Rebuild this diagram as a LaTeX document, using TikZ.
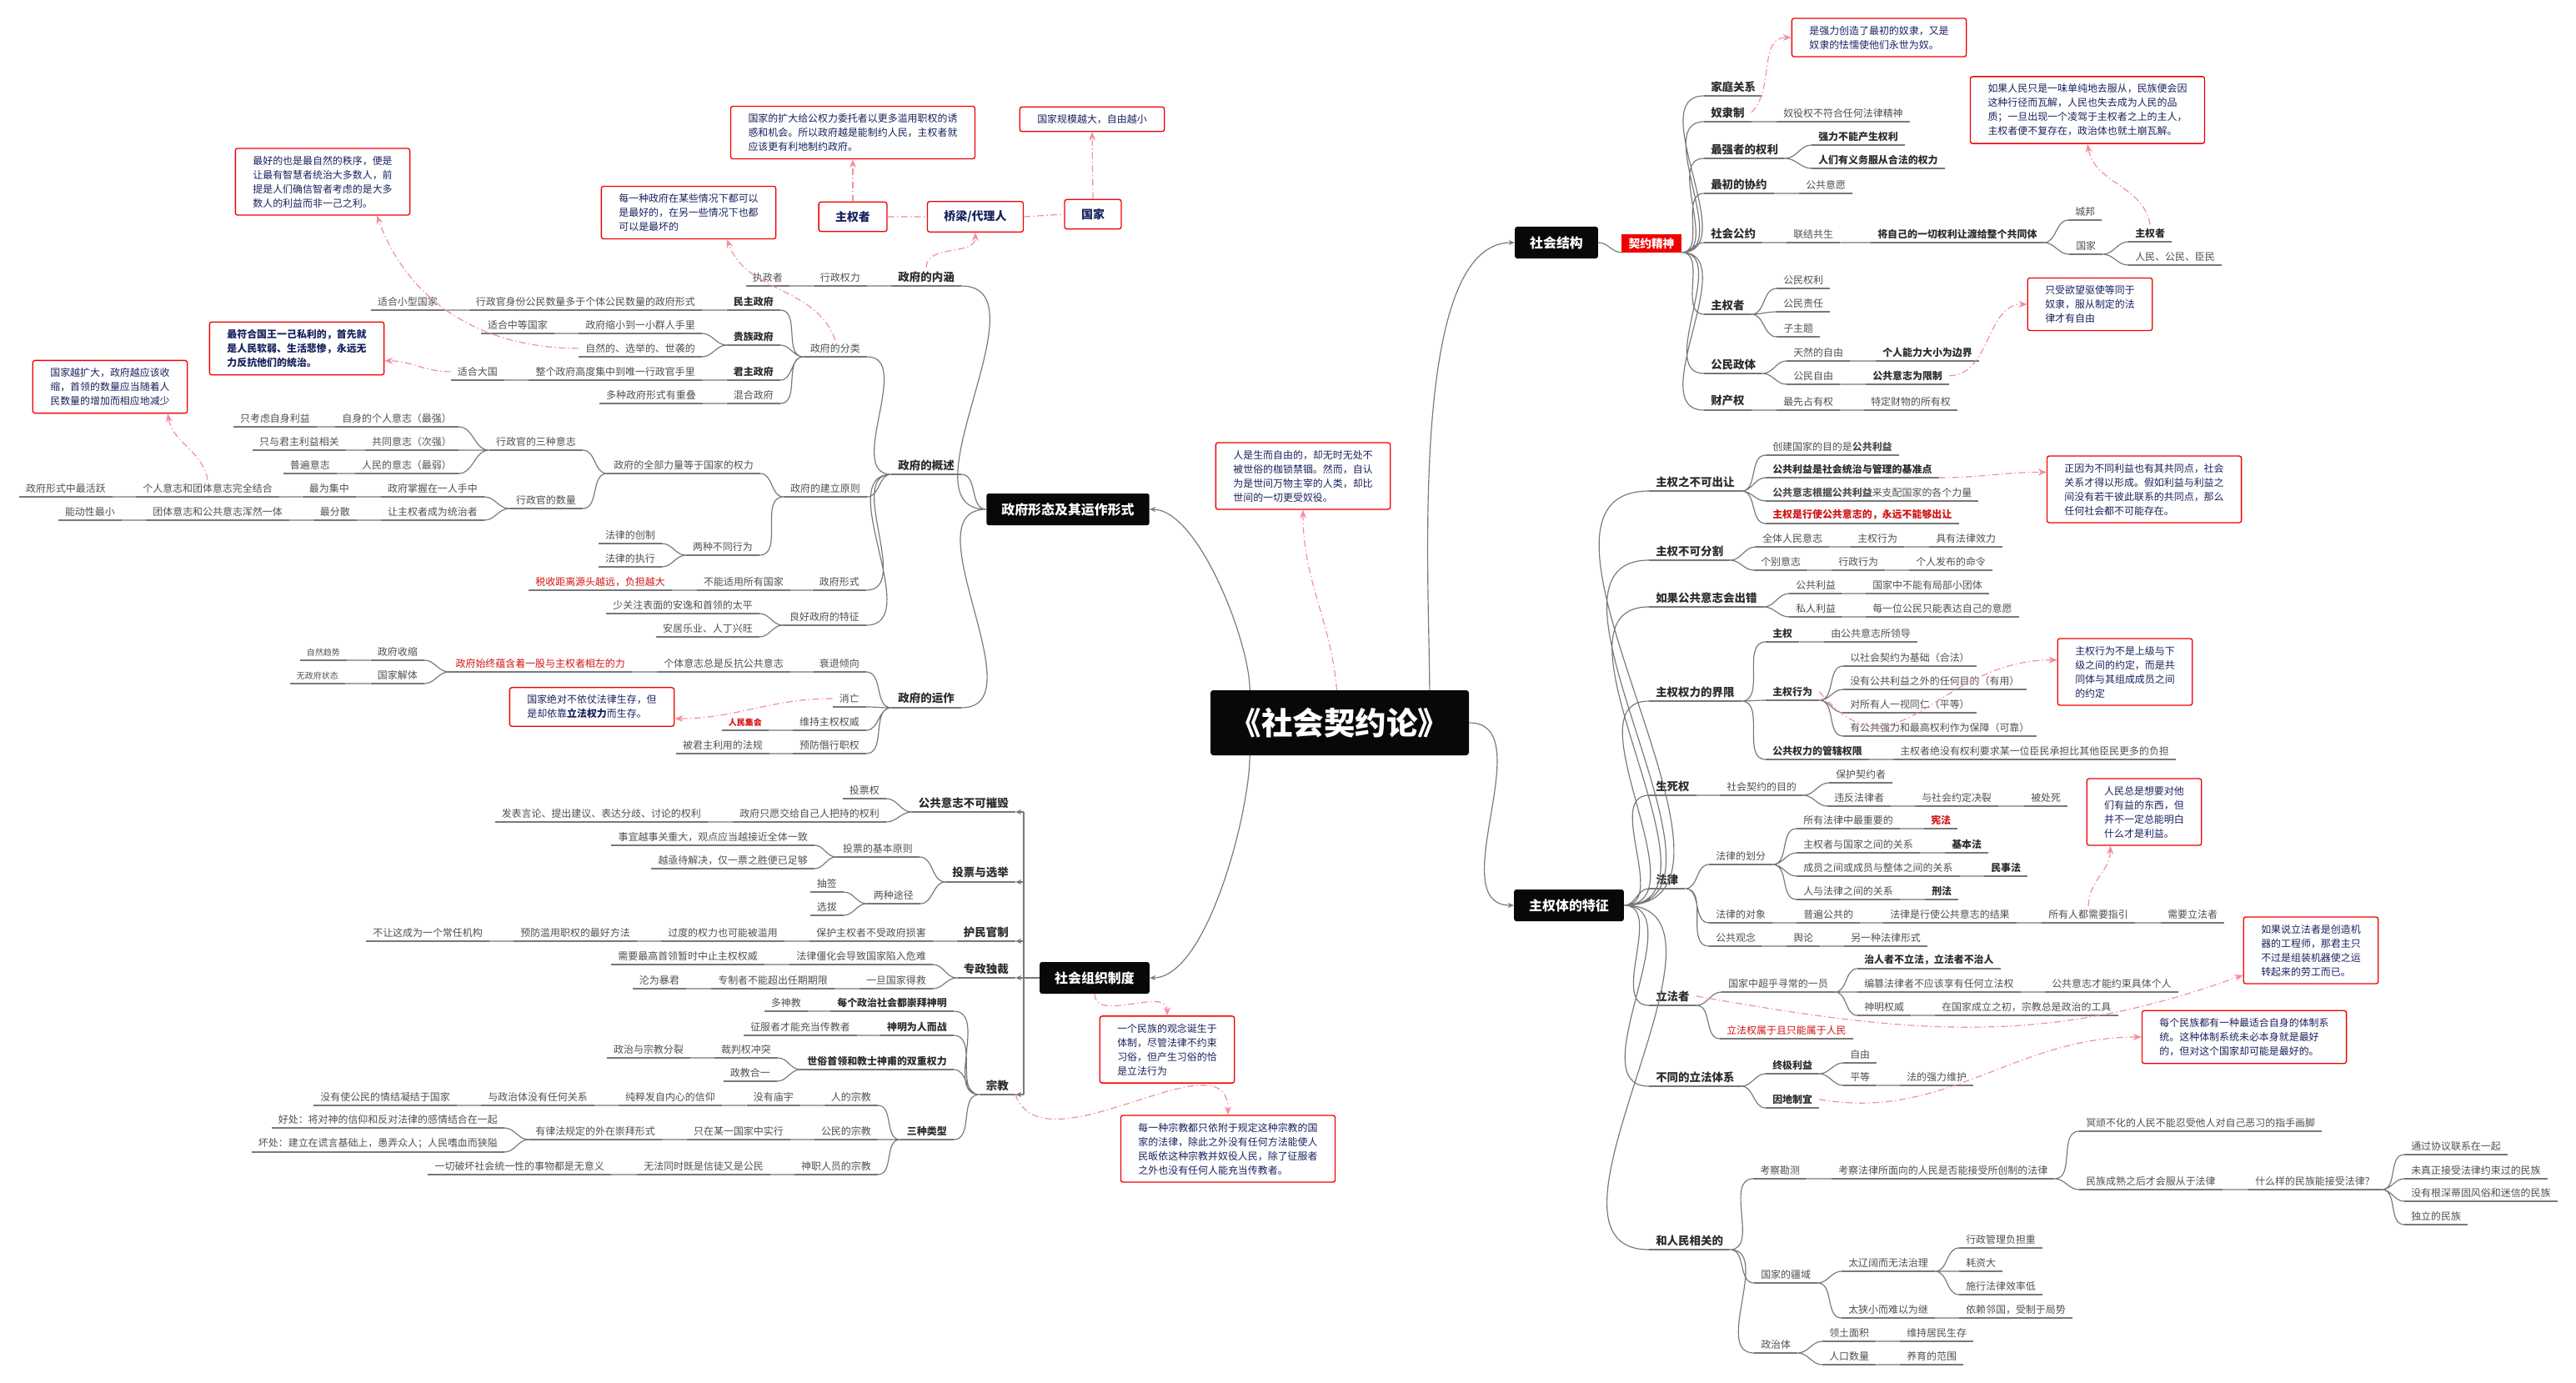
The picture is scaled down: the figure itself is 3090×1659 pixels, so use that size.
\documentclass[tikz,border=0pt]{standalone}
\usepackage{fontspec}
\setmainfont{Noto Sans CJK SC}
\usetikzlibrary{arrows.meta}
\definecolor{txtc}{RGB}{80,80,80}
\definecolor{hdc}{RGB}{45,45,45}
\definecolor{lnc}{RGB}{120,120,120}
\definecolor{redc}{RGB}{210,20,20}
\definecolor{ntc}{RGB}{240,0,0}
\definecolor{navc}{RGB}{25,35,95}
\definecolor{pkc}{RGB}{245,140,155}
\definecolor{bkc}{RGB}{8,8,8}
\tikzset{
  >={Stealth[length=2.2mm,width=1.8mm]},
  ul/.style={draw=lnc, line width=0.35mm},
  lf/.style={font=\fontsize{10.2}{12}\selectfont, text=txtc, inner xsep=2.4mm, inner ysep=1.3mm,
    append after command={(\tikzlastnode.south west) edge[ul] (\tikzlastnode.south east)}},
  rn/.style={lf, anchor=south west},
  ln/.style={lf, anchor=south east},
  hb/.style={font=\fontsize{11.5}{13}\selectfont\bfseries, text=hdc},
  sb/.style={font=\fontsize{10.2}{12}\selectfont\bfseries, text=hdc},
  rd/.style={text=redc},
  sm/.style={font=\fontsize{8.5}{10}\selectfont},
  cn/.style={draw=lnc, line width=0.35mm},
  cr/.style={cn, out=0, in=180},
  cl/.style={cn, out=180, in=0},
  ml/.style={cn, ->},
  nt/.style={draw=ntc, line width=0.4mm, rounded corners=0.8mm, fill=white, text=navc,
    font=\fontsize{10.2}{14.5}\selectfont, align=left, inner xsep=6.3mm, inner ysep=2.7mm},
  ntb/.style={nt, font=\fontsize{10.2}{14.5}\selectfont\bfseries},
  nb/.style={nt, font=\fontsize{11.9}{14}\selectfont\bfseries, inner xsep=6mm, inner ysep=3.3mm},
  dl/.style={draw=pkc, line width=0.35mm, dash pattern=on 2.4mm off 1mm on 0.4mm off 1mm,
    ->, >={Stealth[length=3mm,width=2.4mm]}},
  mb/.style={fill=bkc, text=white, font=\fontsize{13.6}{16}\selectfont\bfseries,
    rounded corners=0.8mm, inner xsep=5.4mm, minimum height=11.4mm},
  qb/.style={fill=ntc, text=white, font=\fontsize{11.7}{13}\selectfont\bfseries,
    inner xsep=2.5mm, inner ysep=1.2mm},
  rt/.style={fill=bkc, text=white, font=\fontsize{32}{36}\selectfont\bfseries,
    rounded corners=1mm, minimum width=93mm, minimum height=23.4mm},
}
\begin{document}
\begin{tikzpicture}[x=0.3mm,y=0.3mm]
\fill[white] (0,0) rectangle (3090,-1659);
\useasboundingbox (0,0) rectangle (3090,-1659);

% centre and main branches
\node[rt] (root) at (1607,-867) {《社会契约论》};
\node[mb] (shj) at (1867,-291) {社会结构};
\node[qb] (qy) at (1981,-292) {契约精神};
\node[mb] (ztz) at (1882,-1086) {主权体的特征};
\node[mb] (zfxs) at (1281,-611) {政府形态及其运作形式};
\node[mb] (szz) at (1313,-1173) {社会组织制度};

\draw[ml] (root.20) to[out=90,in=180,looseness=0.6] (shj.west);
\draw[ml] (root.east) to[out=0,in=180] (ztz.west);
\draw[ml] (root.160) to[out=90,in=0,looseness=0.6] (zfxs.east);
\draw[ml] (root.200) to[out=-90,in=0,looseness=0.6] (szz.east);

% ---- 社会结构
\node[rn,hb] (jt) at (2044,-115) {家庭关系};
\node[rn,hb] (nl) at (2044,-146) {奴隶制};
\node[rn] (nl1) at (2131,-146) {奴役权不符合任何法律精神};
\node[rn,hb] (qq) at (2044,-190) {最强者的权利};
\node[rn,sb] (qq1) at (2173,-174) {强力不能产生权利};
\node[rn,sb] (qq2) at (2173,-202) {人们有义务服从合法的权力};
\node[rn,hb] (cx) at (2044,-232) {最初的协约};
\node[rn] (cx1) at (2158,-232) {公共意愿};
\node[rn,hb] (gy) at (2044,-291) {社会公约};
\node[rn] (gy1) at (2143,-291) {联结共生};
\node[rn,sb] (gy2) at (2244,-291) {将自己的一切权利让渡给整个共同体};
\node[rn] (gy3) at (2481,-264) {城邦};
\node[rn] (gy4) at (2482,-305) {国家};
\node[rn,sb] (gy5) at (2553,-290) {主权者};
\node[rn] (gy6) at (2553,-318) {人民、公民、臣民};
\node[rn,hb] (zq) at (2044,-377) {主权者};
\node[rn] (zq1) at (2131,-346) {公民权利};
\node[rn] (zq2) at (2131,-374) {公民责任};
\node[rn] (zq3) at (2131,-404) {子主题};
\node[rn,hb] (gm) at (2044,-448) {公民政体};
\node[rn] (gm1) at (2143,-433) {天然的自由};
\node[rn,sb] (gm2) at (2250,-433) {个人能力大小为边界};
\node[rn] (gm3) at (2143,-461) {公民自由};
\node[rn,sb] (gm4) at (2238,-461) {公共意志为限制};
\node[rn,hb] (cc) at (2044,-492) {财产权};
\node[rn] (cc1) at (2131,-492) {最先占有权};
\node[rn] (cc2) at (2236,-492) {特定财物的所有权};

\draw[cn] (shj.east) to[out=0,in=180] (qy.south west);
\draw[cr] (qy.south east) to (jt.south west) (qy.south east) to (nl.south west)
  (qy.south east) to (qq.south west) (qy.south east) to (cx.south west)
  (qy.south east) to (gy.south west) (qy.south east) to (zq.south west)
  (qy.south east) to (gm.south west) (qy.south east) to (cc.south west);
\draw[cr] (nl.south east) to (nl1.south west)
  (qq.south east) to (qq1.south west) (qq.south east) to (qq2.south west)
  (cx.south east) to (cx1.south west)
  (gy.south east) to (gy1.south west) (gy1.south east) to (gy2.south west)
  (gy2.south east) to (gy3.south west) (gy2.south east) to (gy4.south west)
  (gy4.south east) to (gy5.south west) (gy4.south east) to (gy6.south west)
  (zq.south east) to (zq1.south west) (zq.south east) to (zq2.south west)
  (zq.south east) to (zq3.south west)
  (gm.south east) to (gm1.south west) (gm.south east) to (gm3.south west)
  (gm1.south east) to (gm2.south west) (gm3.south east) to (gm4.south west)
  (cc.south east) to (cc1.south west) (cc1.south east) to (cc2.south west);

\node[nt] (n1) at (2254,-45) {是强力创造了最初的奴隶，又是\\奴隶的怯懦使他们永世为奴。};
\node[nt] (n2) at (2504,-132) {如果人民只是一味单纯地去服从，民族便会因\\这种行径而瓦解，人民也失去成为人民的品\\质；一旦出现一个凌驾于主权者之上的主人，\\主权者便不复存在，政治体也就土崩瓦解。};
\node[nt] (n3) at (2507,-365) {只受欲望驱使等同于\\奴隶，服从制定的法\\律才有自由};
\draw[dl] (nl.east) to[out=45,in=180] (n1.west);
\draw[dl] (gy5.north) to[out=100,in=-80] (n2.south);
\draw[dl] (gm4.east) to[out=0,in=180] (n3.west);

% ---- 主权体的特征
\node[rn,hb] (bc) at (1978,-589) {主权之不可出让};
\node[rn] (bc1) at (2118,-546) {创建国家的目的是\textbf{公共利益}};
\node[rn,sb] (bc2) at (2118,-573) {公共利益是社会统治与管理的基准点};
\node[rn] (bc3) at (2118,-601) {\textbf{公共意志根据公共利益}来支配国家的各个力量};
\node[rn,sb,rd] (bc4) at (2118,-628) {主权是行使公共意志的，永远不能够出让};
\node[rn,hb] (bf) at (1978,-672) {主权不可分割};
\node[rn] (bf1) at (2106,-656) {全体人民意志};
\node[rn] (bf2) at (2220,-656) {主权行为};
\node[rn] (bf3) at (2314,-656) {具有法律效力};
\node[rn] (bf4) at (2104,-684) {个别意志};
\node[rn] (bf5) at (2197,-684) {行政行为};
\node[rn] (bf6) at (2290,-684) {个人发布的命令};
\node[rn,hb] (bg) at (1978,-728) {如果公共意志会出错};
\node[rn] (bg1) at (2146,-712) {公共利益};
\node[rn] (bg2) at (2238,-712) {国家中不能有局部小团体};
\node[rn] (bg3) at (2146,-740) {私人利益};
\node[rn] (bg4) at (2238,-740) {每一位公民只能表达自己的意愿};
\node[rn,hb] (bj) at (1978,-841) {主权权力的界限};
\node[rn,sb] (bj1) at (2118,-770) {主权};
\node[rn] (bj2) at (2188,-770) {由公共意志所领导};
\node[rn,sb] (bj3) at (2118,-840) {主权行为};
\node[rn] (bj4) at (2211,-799) {以社会契约为基础（合法）};
\node[rn] (bj5) at (2211,-827) {没有公共利益之外的任何目的（有用）};
\node[rn] (bj6) at (2211,-855) {对所有人一视同仁（平等）};
\node[rn] (bj7) at (2211,-883) {有公共强力和最高权利作为保障（可靠）};
\node[rn,sb] (bj8) at (2118,-911) {公共权力的管辖权限};
\node[rn] (bj9) at (2271,-911) {主权者绝没有权利要求某一位臣民承担比其他臣民更多的负担};
\node[rn,hb] (bs) at (1978,-954) {生死权};
\node[rn] (bs1) at (2063,-954) {社会契约的目的};
\node[rn] (bs2) at (2194,-939) {保护契约者};
\node[rn] (bs3) at (2192,-967) {违反法律者};
\node[rn] (bs4) at (2297,-967) {与社会约定决裂};
\node[rn] (bs5) at (2428,-967) {被处死};
\node[rn,hb] (bl) at (1978,-1066) {法律};
\node[rn] (bl1) at (2050,-1037) {法律的划分};
\node[rn] (bl2) at (2155,-994) {所有法律中最重要的};
\node[rn,sb,rd] (bl3) at (2308,-994) {宪法};
\node[rn] (bl4) at (2155,-1023) {主权者与国家之间的关系};
\node[rn,sb] (bl5) at (2333,-1023) {基本法};
\node[rn] (bl6) at (2155,-1051) {成员之间或成员与整体之间的关系};
\node[rn,sb] (bl7) at (2380,-1051) {民事法};
\node[rn] (bl8) at (2155,-1079) {人与法律之间的关系};
\node[rn,sb] (bl9) at (2309,-1079) {刑法};
\node[rn] (bla) at (2050,-1107) {法律的对象};
\node[rn] (blb) at (2155,-1107) {普遍公共的};
\node[rn] (blc) at (2259,-1107) {法律是行使公共意志的结果};
\node[rn] (bld) at (2449,-1107) {所有人都需要指引};
\node[rn] (ble) at (2592,-1107) {需要立法者};
\node[rn] (blf) at (2050,-1135) {公共观念};
\node[rn] (blg) at (2143,-1135) {舆论};
\node[rn] (blh) at (2212,-1135) {另一种法律形式};
\node[rn,hb] (bz) at (1978,-1206) {立法者};
\node[rn] (bz1) at (2065,-1190) {国家中超乎寻常的一员};
\node[rn,sb] (bz2) at (2228,-1162) {治人者不立法，立法者不治人};
\node[rn] (bz3) at (2228,-1190) {编篡法律者不应该享有任何立法权};
\node[rn] (bz4) at (2453,-1190) {公共意志才能约束具体个人};
\node[rn] (bz5) at (2228,-1218) {神明权威};
\node[rn] (bz6) at (2321,-1218) {在国家成立之初，宗教总是政治的工具};
\node[rn,rd] (bz7) at (2063,-1246) {立法权属于且只能属于人民};
\node[rn,hb] (bt) at (1978,-1303) {不同的立法体系};
\node[rn,sb] (bt1) at (2118,-1288) {终极利益};
\node[rn] (bt2) at (2211,-1275) {自由};
\node[rn] (bt3) at (2211,-1302) {平等};
\node[rn] (bt4) at (2279,-1302) {法的强力维护};
\node[rn,sb] (bt5) at (2118,-1329) {因地制宜};
\node[rn,hb] (br) at (1978,-1499) {和人民相关的};
\node[rn] (br1) at (2103,-1414) {考察勘测};
\node[rn] (br2) at (2197,-1414) {考察法律所面向的人民是否能接受所创制的法律};
\node[rn] (br3) at (2494,-1357) {冥顽不化的人民不能忍受他人对自己恶习的指手画脚};
\node[rn] (br4) at (2494,-1427) {民族成熟之后才会服从于法律};
\node[rn] (br5) at (2697,-1427) {什么样的民族能接受法律？};
\node[rn] (br6) at (2884,-1385) {通过协议联系在一起};
\node[rn] (br7) at (2884,-1414) {未真正接受法律约束过的民族};
\node[rn] (br8) at (2884,-1441) {没有根深蒂固风俗和迷信的民族};
\node[rn] (br9) at (2884,-1469) {独立的民族};
\node[rn] (bra) at (2104,-1539) {国家的疆域};
\node[rn] (brb) at (2209,-1525) {太辽阔而无法治理};
\node[rn] (brc) at (2350,-1497) {行政管理负担重};
\node[rn] (brd) at (2350,-1525) {耗资大};
\node[rn] (bre) at (2350,-1553) {施行法律效率低};
\node[rn] (brf) at (2209,-1581) {太狭小而难以为继};
\node[rn] (brg) at (2350,-1581) {依赖邻国，受制于局势};
\node[rn] (brh) at (2104,-1623) {政治体};
\node[rn] (bri) at (2186,-1609) {领土面积};
\node[rn] (brj) at (2279,-1609) {维持居民生存};
\node[rn] (brk) at (2186,-1637) {人口数量};
\node[rn] (brl) at (2279,-1637) {养育的范围};

\draw[cr] (ztz.east) to (bc.south west) (ztz.east) to (bf.south west)
  (ztz.east) to (bg.south west) (ztz.east) to (bj.south west)
  (ztz.east) to (bs.south west) (ztz.east) to (bl.south west)
  (ztz.east) to (bz.south west) (ztz.east) to (bt.south west)
  (ztz.east) to (br.south west);
\draw[cr] (bc.south east) to (bc1.south west) (bc.south east) to (bc2.south west)
  (bc.south east) to (bc3.south west) (bc.south east) to (bc4.south west)
  (bf.south east) to (bf1.south west) (bf1.south east) to (bf2.south west)
  (bf2.south east) to (bf3.south west) (bf.south east) to (bf4.south west)
  (bf4.south east) to (bf5.south west) (bf5.south east) to (bf6.south west)
  (bg.south east) to (bg1.south west) (bg1.south east) to (bg2.south west)
  (bg.south east) to (bg3.south west) (bg3.south east) to (bg4.south west)
  (bj.south east) to (bj1.south west) (bj1.south east) to (bj2.south west)
  (bj.south east) to (bj3.south west) (bj.south east) to (bj8.south west)
  (bj3.south east) to (bj4.south west) (bj3.south east) to (bj5.south west)
  (bj3.south east) to (bj6.south west) (bj3.south east) to (bj7.south west)
  (bj8.south east) to (bj9.south west)
  (bs.south east) to (bs1.south west) (bs1.south east) to (bs2.south west)
  (bs1.south east) to (bs3.south west) (bs3.south east) to (bs4.south west)
  (bs4.south east) to (bs5.south west);
\draw[cr] (bl.south east) to (bl1.south west) (bl.south east) to (bla.south west)
  (bl.south east) to (blf.south west)
  (bl1.south east) to (bl2.south west) (bl1.south east) to (bl4.south west)
  (bl1.south east) to (bl6.south west) (bl1.south east) to (bl8.south west)
  (bl2.south east) to (bl3.south west) (bl4.south east) to (bl5.south west)
  (bl6.south east) to (bl7.south west) (bl8.south east) to (bl9.south west)
  (bla.south east) to (blb.south west) (blb.south east) to (blc.south west)
  (blc.south east) to (bld.south west) (bld.south east) to (ble.south west)
  (blf.south east) to (blg.south west) (blg.south east) to (blh.south west)
  (bz.south east) to (bz1.south west) (bz.south east) to (bz7.south west)
  (bz1.south east) to (bz2.south west) (bz1.south east) to (bz3.south west)
  (bz1.south east) to (bz5.south west) (bz3.south east) to (bz4.south west)
  (bz5.south east) to (bz6.south west)
  (bt.south east) to (bt1.south west) (bt.south east) to (bt5.south west)
  (bt1.south east) to (bt2.south west) (bt1.south east) to (bt3.south west)
  (bt3.south east) to (bt4.south west);
\draw[cr] (br.south east) to (br1.south west) (br.south east) to (bra.south west)
  (br.south east) to (brh.south west)
  (br1.south east) to (br2.south west) (br2.south east) to (br3.south west)
  (br2.south east) to (br4.south west) (br4.south east) to (br5.south west)
  (br5.south east) to (br6.south west) (br5.south east) to (br7.south west)
  (br5.south east) to (br8.south west) (br5.south east) to (br9.south west)
  (bra.south east) to (brb.south west) (bra.south east) to (brf.south west)
  (brb.south east) to (brc.south west) (brb.south east) to (brd.south west)
  (brb.south east) to (bre.south west) (brf.south east) to (brg.south west)
  (brh.south east) to (bri.south west) (brh.south east) to (brk.south west)
  (bri.south east) to (brj.south west) (brk.south east) to (brl.south west);

\node[nt] (n4) at (2572,-587) {正因为不同利益也有其共同点，社会\\关系才得以形成。假如利益与利益之\\间没有若干彼此联系的共同点，那么\\任何社会都不可能存在。};
\node[nt] (n5) at (2549,-806) {主权行为不是上级与下\\级之间的约定，而是共\\同体与其组成成员之间\\的约定};
\node[nt] (n6) at (2572,-974) {人民总是想要对他\\们有益的东西，但\\并不一定总能明白\\什么才是利益。};
\node[nt] (n7) at (2772,-1140) {如果说立法者是创造机\\器的工程师，那君主只\\不过是组装机器使之运\\转起来的劳工而已。};
\node[nt] (n8) at (2692,-1244) {每个民族都有一种最适合自身的体制系\\统。这种体制系统未必本身就是最好\\的，但对这个国家却可能是最好的。};
\draw[dl] (bc2.south east) to[out=0,in=180] (n4.170);
\draw[dl] (bj3.east) to[out=-50,in=180,looseness=1.3] (n5.170);
\draw[dl] (bld.north) to[out=90,in=-90] (n6.-135);
\draw[dl] (bz.east) to[out=-10,in=200] (n7.200);
\draw[dl] (bt5.east) to[out=-10,in=180] (n8.west);

% ---- 政府形态及其运作形式
\node[ln,hb] (zn) at (1153,-343) {政府的内涵};
\node[ln] (zn1) at (1040,-343) {行政权力};
\node[ln] (zn2) at (947,-343) {执政者};
\node[ln,hb] (zg) at (1153,-569) {政府的概述};
\node[ln] (zf) at (1040,-428) {政府的分类};
\node[ln,sb] (zf1) at (936,-372) {民主政府};
\node[ln] (zf2) at (842,-372) {行政官身份公民数量多于个体公民数量的政府形式};
\node[ln] (zf3) at (533,-372) {适合小型国家};
\node[ln,sb] (zf4) at (936,-414) {贵族政府};
\node[ln] (zf5) at (842,-400) {政府缩小到一小群人手里};
\node[ln] (zf6) at (665,-400) {适合中等国家};
\node[ln] (zf7) at (842,-428) {自然的、选举的、世袭的};
\node[ln,sb] (zf8) at (936,-456) {君主政府};
\node[ln] (zf9) at (842,-456) {整个政府高度集中到唯一行政官手里};
\node[ln] (zfa) at (605,-456) {适合大国};
\node[ln] (zfb) at (936,-484) {混合政府};
\node[ln] (zfc) at (843,-484) {多种政府形式有重叠};
\node[ln] (zj) at (1040,-596) {政府的建立原则};
\node[ln] (zj1) at (912,-568) {政府的全部力量等于国家的权力};
\node[ln] (zj2) at (699,-540) {行政官的三种意志};
\node[ln] (zj3) at (550,-512) {自身的个人意志（最强）};
\node[ln] (zj4) at (380,-512) {只考虑自身利益};
\node[ln] (zj5) at (550,-540) {共同意志（次强）};
\node[ln] (zj6) at (415,-540) {只与君主利益相关};
\node[ln] (zj7) at (550,-568) {人民的意志（最弱）};
\node[ln] (zj8) at (404,-568) {普遍意志};
\node[ln] (zj9) at (699,-610) {行政官的数量};
\node[ln] (zja) at (581,-596) {政府掌握在一人手中};
\node[ln] (zjb) at (427,-596) {最为集中};
\node[ln] (zjc) at (335,-596) {个人意志和团体意志完全结合};
\node[ln] (zjd) at (135,-596) {政府形式中最活跃};
\node[ln] (zje) at (581,-624) {让主权者成为统治者};
\node[ln] (zjf) at (428,-624) {最分散};
\node[ln] (zjg) at (347,-624) {团体意志和公共意志浑然一体};
\node[ln] (zjh) at (146,-624) {能动性最小};
\node[ln] (zjj) at (911,-666) {两种不同行为};
\node[ln] (zjk) at (794,-652) {法律的创制};
\node[ln] (zjl) at (794,-680) {法律的执行};
\node[ln] (zx) at (1039,-708) {政府形式};
\node[ln] (zx1) at (948,-708) {不能适用所有国家};
\node[ln,rd] (zx2) at (806,-708) {税收距离源头越远，负担越大};
\node[ln] (zl) at (1039,-750) {良好政府的特征};
\node[ln] (zl1) at (911,-736) {少关注表面的安逸和首领的太平};
\node[ln] (zl2) at (911,-764) {安居乐业、人丁兴旺};
\node[ln,hb] (zy) at (1153,-849) {政府的运作};
\node[ln] (zy1) at (1039,-806) {衰退倾向};
\node[ln] (zy2) at (948,-806) {个体意志总是反抗公共意志};
\node[ln,rd] (zy3) at (758,-806) {政府始终蕴含着一股与主权者相左的力};
\node[ln] (zy4) at (509,-792) {政府收缩};
\node[ln,sm] (zy5) at (416,-792) {自然趋势};
\node[ln] (zy6) at (509,-820) {国家解体};
\node[ln,sm] (zy7) at (414,-820) {无政府状态};
\node[ln] (zy8) at (1039,-848) {消亡};
\node[ln] (zy9) at (1039,-876) {维持主权权威};
\node[ln,sm,rd,font=\fontsize{8.5}{10}\selectfont\bfseries] (zya) at (922,-876) {人民集会};
\node[ln] (zyb) at (1039,-904) {预防僭行职权};
\node[ln] (zyc) at (923,-904) {被君主利用的法规};

\draw[cl] (zfxs.west) to (zn.south east) (zfxs.west) to (zg.south east)
  (zfxs.west) to (zy.south east);
\draw[cl] (zn.south west) to (zn1.south east) (zn1.south west) to (zn2.south east)
  (zg.south west) to (zf.south east) (zg.south west) to (zj.south east)
  (zg.south west) to (zx.south east) (zg.south west) to (zl.south east)
  (zf.south west) to (zf1.south east) (zf.south west) to (zf4.south east)
  (zf.south west) to (zf8.south east) (zf.south west) to (zfb.south east)
  (zf1.south west) to (zf2.south east) (zf2.south west) to (zf3.south east)
  (zf4.south west) to (zf5.south east) (zf4.south west) to (zf7.south east)
  (zf5.south west) to (zf6.south east)
  (zf8.south west) to (zf9.south east) (zf9.south west) to (zfa.south east)
  (zfb.south west) to (zfc.south east);
\draw[cl] (zj.south west) to (zj1.south east) (zj.south west) to (zjj.south east)
  (zj1.south west) to (zj2.south east) (zj1.south west) to (zj9.south east)
  (zj2.south west) to (zj3.south east) (zj2.south west) to (zj5.south east)
  (zj2.south west) to (zj7.south east)
  (zj3.south west) to (zj4.south east) (zj5.south west) to (zj6.south east)
  (zj7.south west) to (zj8.south east)
  (zj9.south west) to (zja.south east) (zj9.south west) to (zje.south east)
  (zja.south west) to (zjb.south east) (zjb.south west) to (zjc.south east)
  (zjc.south west) to (zjd.south east)
  (zje.south west) to (zjf.south east) (zjf.south west) to (zjg.south east)
  (zjg.south west) to (zjh.south east)
  (zjj.south west) to (zjk.south east) (zjj.south west) to (zjl.south east)
  (zx.south west) to (zx1.south east) (zx1.south west) to (zx2.south east)
  (zl.south west) to (zl1.south east) (zl.south west) to (zl2.south east);
\draw[cl] (zy.south west) to (zy1.south east) (zy.south west) to (zy8.south east)
  (zy.south west) to (zy9.south east) (zy.south west) to (zyb.south east)
  (zy1.south west) to (zy2.south east) (zy2.south west) to (zy3.south east)
  (zy3.south west) to (zy4.south east) (zy3.south west) to (zy6.south east)
  (zy4.south west) to (zy5.south east) (zy6.south west) to (zy7.south east)
  (zy9.south west) to (zya.south east) (zyb.south west) to (zyc.south east);

\node[nb] (q1) at (1023,-260) {主权者};
\node[nb] (q2) at (1170,-260) {桥梁/代理人};
\node[nb] (q3) at (1311,-257) {国家};
\node[nt] (m1) at (1023,-159) {国家的扩大给公权力委托者以更多滥用职权的诱\\惑和机会。所以政府越是能制约人民，主权者就\\应该更有利地制约政府。};
\node[nt] (m2) at (1310,-143) {国家规模越大，自由越小};
\node[nt] (m3) at (826,-255) {每一种政府在某些情况下都可以\\是最好的，在另一些情况下也都\\可以是最坏的};
\node[nt] (m4) at (387,-218) {最好的也是最自然的秩序，便是\\让最有智慧者统治大多数人，前\\提是人们确信智者考虑的是大多\\数人的利益而非一己之利。};
\node[ntb] (m5) at (356,-418) {最符合国王一己私利的，首先就\\是人民软弱、生活悲惨，永远无\\力反抗他们的统治。};
\node[nt] (m6) at (132,-464) {国家越扩大，政府越应该收\\缩，首领的数量应当随着人\\民数量的增加而相应地减少};
\node[nt] (m7) at (710,-848) {国家绝对不依仗法律生存，但\\是却依靠\textbf{立法权力}而生存。};
\node[nt] (m8) at (1563,-571) {人是生而自由的，却无时无处不\\被世俗的枷锁禁锢。然而，自认\\为是世间万物主宰的人类，却比\\世间的一切更受奴役。};

\draw[dl,-] (q1.east) -- (q2.west) (q2.east) -- (q3.west);
\draw[dl] (q1.north) -- (m1.south);
\draw[dl] (q3.north) -- (m2.south);
\draw[dl] (zn.north) to[out=90,in=-90] (q2.south);
\draw[dl] (zf.north) to[out=110,in=-70] (m3.-35);
\draw[dl] (zf7.west) to[out=180,in=-70] (m4.-32);
\draw[dl] (zfa.west) to[out=180,in=0] (m5.-8);
\draw[dl] (zjc.north) to[out=100,in=-80] (m6.-25);
\draw[dl] (zy8.west) to[out=180,in=0] (m7.-8);
\draw[dl] (root.95) to[out=95,in=-90] (m8.south);

% ---- 社会组织制度
\node[ln,hb] (sg) at (1218,-974) {公共意志不可摧毁};
\node[ln] (sg1) at (1063,-958) {投票权};
\node[ln] (sg2) at (1063,-986) {政府只愿交给自己人把持的权利};
\node[ln] (sg3) at (849,-986) {发表言论、提出建议、表达分歧、讨论的权利};
\node[ln,hb] (st) at (1218,-1058) {投票与选举};
\node[ln] (st1) at (1103,-1028) {投票的基本原则};
\node[ln] (st2) at (977,-1014) {事宜越事关重大，观点应当越接近全体一致};
\node[ln] (st3) at (977,-1042) {越亟待解决，仅一票之胜便已足够};
\node[ln] (st4) at (1104,-1084) {两种途径};
\node[ln] (st5) at (1012,-1070) {抽签};
\node[ln] (st6) at (1012,-1098) {选拔};
\node[ln,hb] (sh) at (1218,-1129) {护民官制};
\node[ln] (sh1) at (1119,-1129) {保护主权者不受政府损害};
\node[ln] (sh2) at (941,-1129) {过度的权力也可能被滥用};
\node[ln] (sh3) at (764,-1129) {预防滥用职权的最好方法};
\node[ln] (sh4) at (587,-1129) {不让这成为一个常任机构};
\node[ln,hb] (sz) at (1218,-1173) {专政独裁};
\node[ln] (sz1) at (1119,-1157) {法律僵化会导致国家陷入危难};
\node[ln] (sz2) at (917,-1157) {需要最高首领暂时中止主权权威};
\node[ln] (sz3) at (1119,-1186) {一旦国家得救};
\node[ln] (sz4) at (1001,-1186) {专制者不能超出任期期限};
\node[ln] (sz5) at (823,-1186) {沦为暴君};
\node[ln,hb] (sj) at (1218,-1313) {宗教};
\node[ln,sb] (sj1) at (1144,-1213) {每个政治社会都崇拜神明};
\node[ln] (sj2) at (969,-1213) {多神教};
\node[ln,sb] (sj3) at (1144,-1242) {神明为人而战};
\node[ln] (sj4) at (1028,-1242) {征服者才能充当传教者};
\node[ln,sb] (sj5) at (1144,-1283) {世俗首领和教士神甫的双重权力};
\node[ln] (sj6) at (933,-1269) {裁判权冲突};
\node[ln] (sj7) at (828,-1269) {政治与宗教分裂};
\node[ln] (sj8) at (932,-1297) {政教合一};
\node[ln,sb] (sj9) at (1144,-1367) {三种类型};
\node[ln] (sja) at (1053,-1326) {人的宗教};
\node[ln] (sjb) at (960,-1326) {没有庙宇};
\node[ln] (sjc) at (866,-1326) {纯粹发自内心的信仰};
\node[ln] (sjd) at (713,-1326) {与政治体没有任何关系};
\node[ln] (sje) at (548,-1326) {没有使公民的情结凝结于国家};
\node[ln] (sjf) at (1053,-1367) {公民的宗教};
\node[ln] (sjg) at (948,-1367) {只在某一国家中实行};
\node[ln] (sjh) at (794,-1367) {有律法规定的外在崇拜形式};
\node[ln] (sji) at (605,-1353) {好处：将对神的信仰和反对法律的感情结合在一起};
\node[ln] (sjj) at (605,-1382) {坏处：建立在谎言基础上，愚弄众人；人民嗜血而狭隘};
\node[ln] (sjk) at (1053,-1409) {神职人员的宗教};
\node[ln] (sjl) at (924,-1409) {无法同时既是信徒又是公民};
\node[ln] (sjm) at (733,-1409) {一切破坏社会统一性的事物都是无意义};

\coordinate (sv1) at (1228,-974);
\coordinate (sv2) at (1228,-1313);
\draw[cn] (szz.west) -- (szz.west -| sv1) (sv1) -- (sv2);
\draw[cn] (sv1) edge[->] (sg.south east)
  (sv1 |- st.south east) edge[->] (st.south east)
  (sv1 |- sh.south east) edge[->] (sh.south east)
  (sv1 |- sz.south east) edge[->] (sz.south east)
  (sv2) edge[->] (sj.south east);
\draw[cl] (sg.south west) to (sg1.south east) (sg.south west) to (sg2.south east)
  (sg2.south west) to (sg3.south east)
  (st.south west) to (st1.south east) (st.south west) to (st4.south east)
  (st1.south west) to (st2.south east) (st1.south west) to (st3.south east)
  (st4.south west) to (st5.south east) (st4.south west) to (st6.south east)
  (sh.south west) to (sh1.south east) (sh1.south west) to (sh2.south east)
  (sh2.south west) to (sh3.south east) (sh3.south west) to (sh4.south east)
  (sz.south west) to (sz1.south east) (sz1.south west) to (sz2.south east)
  (sz.south west) to (sz3.south east) (sz3.south west) to (sz4.south east)
  (sz4.south west) to (sz5.south east);
\draw[cl] (sj.south west) to (sj1.south east) (sj.south west) to (sj3.south east)
  (sj.south west) to (sj5.south east) (sj.south west) to (sj9.south east)
  (sj1.south west) to (sj2.south east) (sj3.south west) to (sj4.south east)
  (sj5.south west) to (sj6.south east) (sj5.south west) to (sj8.south east)
  (sj6.south west) to (sj7.south east)
  (sj9.south west) to (sja.south east) (sj9.south west) to (sjf.south east)
  (sj9.south west) to (sjk.south east)
  (sja.south west) to (sjb.south east) (sjb.south west) to (sjc.south east)
  (sjc.south west) to (sjd.south east) (sjd.south west) to (sje.south east)
  (sjf.south west) to (sjg.south east) (sjg.south west) to (sjh.south east)
  (sjh.south west) to (sji.south east) (sjh.south west) to (sjj.south east)
  (sjk.south west) to (sjl.south east) (sjl.south west) to (sjm.south east);

\node[nt] (s1) at (1400,-1259) {一个民族的观念诞生于\\体制，尽管法律不约束\\习俗，但产生习俗的恰\\是立法行为};
\node[nt] (s2) at (1473,-1378) {每一种宗教都只依附于规定这种宗教的国\\家的法律，除此之外没有任何方法能使人\\民皈依这种宗教并奴役人民，除了征服者\\之外也没有任何人能充当传教者。};
\draw[dl] (szz.south) to[out=-90,in=90] (s1.north);
\draw[dl] (sj.south east) to[out=-70,in=90] (s2.north);
\end{tikzpicture}
\end{document}
